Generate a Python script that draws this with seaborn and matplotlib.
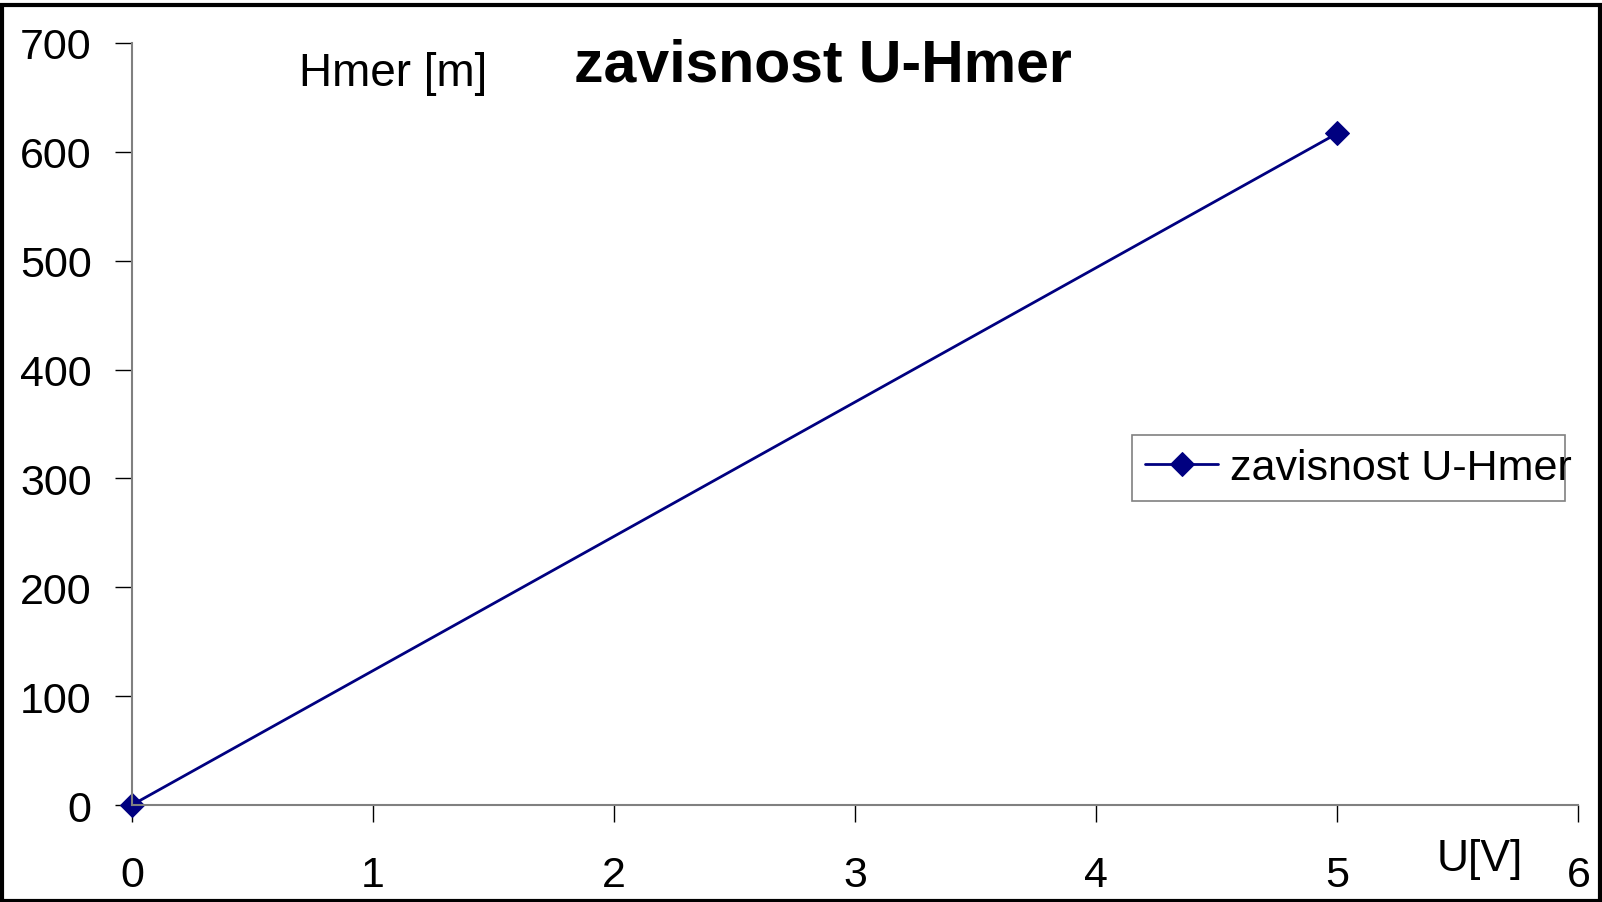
import matplotlib
matplotlib.use('Agg')
from matplotlib import pyplot as plt
import seaborn as sns
import pandas as pd

# data
u_volts = [0, 5]
h_mer = [0, 617]
series_name = 'zavisnost U-Hmer'

sns.set_theme(style='white')
plt.rcParams['font.family'] = ['Liberation Sans', 'DejaVu Sans']
plt.rcParams['text.color'] = 'black'
plt.rcParams['xtick.color'] = 'black'
plt.rcParams['ytick.color'] = 'black'

df = pd.DataFrame({'U': u_volts, 'H': h_mer, 'serie': series_name})

fig = plt.figure(figsize=(16.02, 9.03), dpi=100)
ax = fig.add_axes([0.0823, 0.1074, 0.9030, 0.8439])

sns.lineplot(data=df, x='U', y='H', hue='serie', palette=['#000080'],
             marker='D', markersize=12, markeredgecolor='#000080',
             linewidth=2, ax=ax, clip_on=False)

ax.set_xlim(0, 6)
ax.set_ylim(0, 700)
ax.set_xticks(range(0, 7))
ax.set_yticks(range(0, 701, 100))
ax.tick_params(axis='both', labelsize=31, length=12, width=1, color='black',
               labelcolor='black', direction='out', bottom=True, left=True)
ax.tick_params(axis='x', pad=24)
ax.tick_params(axis='y', pad=17)
for side in ['top', 'right']:
    ax.spines[side].set_visible(False)
for side in ['left', 'bottom']:
    ax.spines[side].set_color('#808080')
    ax.spines[side].set_linewidth(1.5)
ax.set_xlabel('')
ax.set_ylabel('')

fig.text(0.514, 0.927, 'zavisnost U-Hmer', fontsize=42.5, fontweight='bold',
         ha='center', va='center')
fig.text(0.2455, 0.918, 'Hmer [m]', fontsize=33, ha='center', va='center')
fig.text(0.924, 0.048, 'U[V]', fontsize=32, ha='center', va='center')

leg = ax.legend(loc='center left', bbox_to_anchor=(0.6914, 0.3995, 0.2994, 0.0845),
                mode='expand', fontsize=31, frameon=True, fancybox=False,
                borderpad=0.3, handlelength=1.7, handletextpad=0.28,
                borderaxespad=0)
leg.get_frame().set_edgecolor('#606060')
leg.get_frame().set_linewidth(1.2)

# black border around the whole picture
fig.patches.append(plt.Rectangle((0.001, 0.001), 0.998, 0.992,
                                 transform=fig.transFigure, fill=False,
                                 edgecolor='black', linewidth=3))

fig.savefig('out.png', dpi=100)
